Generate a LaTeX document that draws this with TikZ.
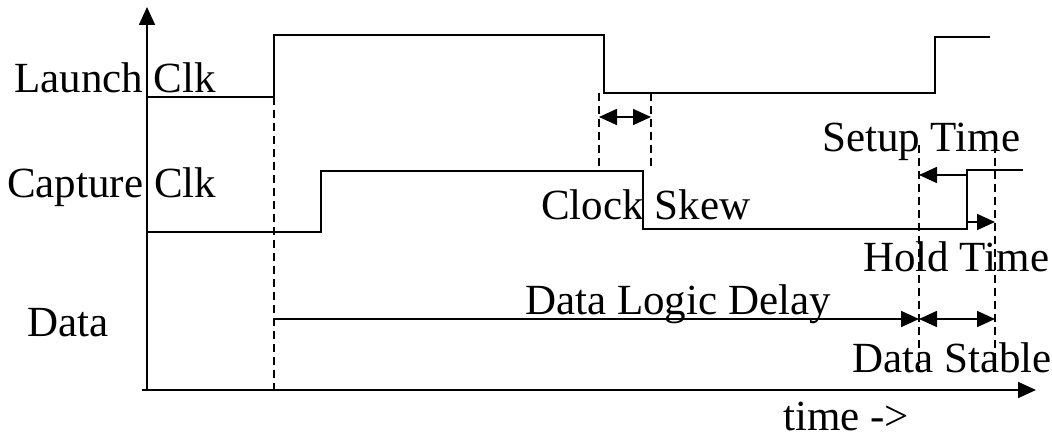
\documentclass[tikz,border=0pt]{standalone}
\usepackage{fontspec}
\setmainfont{Liberation Serif}
\usetikzlibrary{arrows.meta}
\begin{document}
\begin{tikzpicture}[x=1pt,y=-1pt,
  wave/.style={line width=1.7pt},
  guide/.style={line width=1.4pt,dash pattern=on 8pt off 5pt},
  dim/.style={line width=1.7pt},
  toend/.style={-{Triangle[length=18pt,width=16pt]}},
  both/.style={{Triangle[length=18pt,width=16pt]}-{Triangle[length=18pt,width=16pt]}},
  lbl/.style={font=\fontsize{43}{50}\selectfont,inner sep=0pt,anchor=base west}]
\useasboundingbox (0,0) rectangle (1052,438);
% axes
\coordinate (o) at (147,390);
\coordinate (ytop) at (147,7);
\coordinate (xs) at (142,390);
\coordinate (xend) at (1036,390);
\draw[wave,toend] (o) -- (ytop);
\draw[wave,toend] (xs) -- (xend);
% launch clock
\draw[wave] (147,97) -- (274,97) -- (274,35) -- (604,35) -- (604,93) -- (935,93) -- (935,37) -- (990,37);
% capture clock
\draw[wave] (147,232) -- (321,232) -- (321,171) -- (643,171) -- (643,229) -- (967,229) -- (967,170) -- (1023,170);
% guides
\coordinate (g1t) at (274,97);   \coordinate (g1b) at (274,390);
\coordinate (g2t) at (599,93);   \coordinate (g2b) at (599,169);
\coordinate (g3t) at (651,93);   \coordinate (g3b) at (651,168);
\coordinate (g4t) at (919,145);  \coordinate (g4b) at (919,372);
\coordinate (g5t) at (995,145);  \coordinate (g5b) at (995,372);
\draw[guide] (g1t) -- (g1b);
\draw[guide] (g2t) -- (g2b);
\draw[guide] (g3t) -- (g3b);
\draw[guide] (g4t) -- (g4b);
\draw[guide] (g5t) -- (g5b);
% dimension arrows
\coordinate (sk1) at (599,117); \coordinate (sk2) at (651,117);
\draw[dim,both] (sk1) -- (sk2);
\coordinate (su1) at (967,175); \coordinate (su2) at (919,175);
\draw[dim,toend] (su1) -- (su2);
\coordinate (ho1) at (967,222); \coordinate (ho2) at (995,222);
\draw[dim,toend] (ho1) -- (ho2);
\coordinate (dl1) at (274,319); \coordinate (dl2) at (919,319); \coordinate (dl3) at (995,319);
\draw[dim,toend] (dl1) -- (dl2);
\draw[dim,both] (dl2) -- (dl3);
% labels
\node[lbl] (launch) at (14,93) {Launch Clk};
\node[lbl] (capture) at (7,198) {Capture Clk};
\node[lbl] (data) at (27,336) {Data};
\node[lbl] (skew) at (541,220) {Clock Skew};
\node[lbl] (setup) at (822,152) {Setup Time};
\node[lbl] (hold) at (863,272) {Hold Time};
\node[lbl] (delay) at (525,315) {Data Logic Delay};
\node[lbl] (stable) at (852,372) {Data Stable};
\node[lbl] (time) at (783,430) {time ->};
\end{tikzpicture}
\end{document}
